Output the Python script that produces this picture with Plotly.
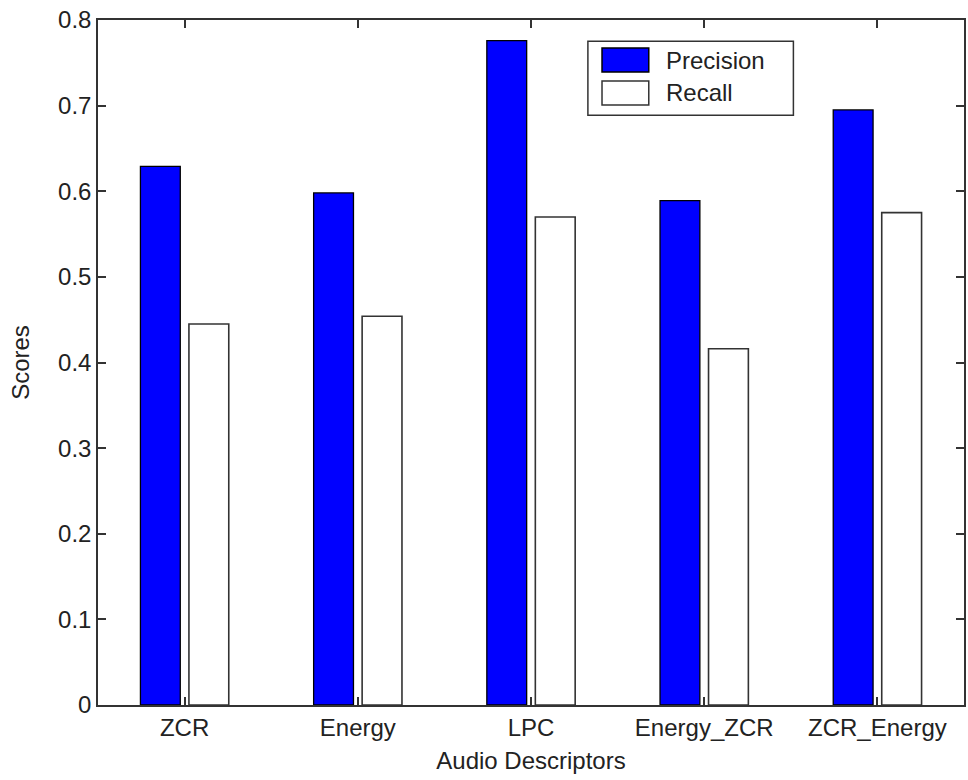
import plotly.graph_objects as go

categories = ["ZCR", "Energy", "LPC", "Energy_ZCR", "ZCR_Energy"]
precision = [0.629, 0.598, 0.776, 0.589, 0.695]
recall = [0.445, 0.454, 0.570, 0.416, 0.575]
yticks = [0, 0.1, 0.2, 0.3, 0.4, 0.5, 0.6, 0.7, 0.8]
ytick_labels = ["0", "0.1", "0.2", "0.3", "0.4", "0.5", "0.6", "0.7", "0.8"]

xpos = list(range(1, len(categories) + 1))
FONT = "Liberation Sans, Arial, sans-serif"
AXIS = "#333333"
TEXT = "#222222"

fig = go.Figure()
fig.add_trace(go.Bar(
    x=xpos, y=precision, name="Precision",
    width=0.23, offset=-0.255,
    marker=dict(color="#0000ff", line=dict(color="#000000", width=1.3)),
    showlegend=False,
))
fig.add_trace(go.Bar(
    x=xpos, y=recall, name="Recall",
    width=0.23, offset=0.025,
    marker=dict(color="#ffffff", line=dict(color="#333333", width=1.6)),
    showlegend=False,
))

# custom legend (box + swatches + labels), in paper coordinates
lx0, lx1, ly0, ly1 = 0.5657, 0.803, 0.861, 0.969
fig.add_shape(type="rect", xref="paper", yref="paper", x0=lx0, x1=lx1, y0=ly0, y1=ly1,
              line=dict(color=AXIS, width=1.5), fillcolor="white", layer="above")
legend_items = [("Precision", "#0000ff", "#000000", 0.9415),
                ("Recall", "#ffffff", "#333333", 0.8935)]
for name, fill, edge, yc in legend_items:
    fig.add_shape(type="rect", xref="paper", yref="paper",
                  x0=0.582, x1=0.636, y0=yc - 0.0175, y1=yc + 0.0175,
                  line=dict(color=edge, width=1.5), fillcolor=fill, layer="above")
    fig.add_annotation(xref="paper", yref="paper", x=0.6535, y=yc, text=name,
                       showarrow=False, xanchor="left", yanchor="middle",
                       font=dict(family=FONT, size=24, color=TEXT))

fig.update_layout(
    width=968, height=780,
    margin=dict(l=98, r=2, t=20, b=75),
    paper_bgcolor="white", plot_bgcolor="white",
    font=dict(family=FONT, size=24, color=TEXT),
    barmode="overlay",
    xaxis=dict(
        range=[0.5, 5.5], tickmode="array", tickvals=xpos, ticktext=categories,
        ticks="inside", ticklen=8, tickwidth=1.5, tickcolor=AXIS,
        showline=True, linecolor=AXIS, linewidth=1.5, mirror="ticks",
        showgrid=False, zeroline=False,
        title=dict(text="Audio Descriptors", standoff=13, font=dict(size=24)),
        tickfont=dict(size=24),
    ),
    yaxis=dict(
        range=[0, 0.8], tickmode="array", tickvals=yticks, ticktext=ytick_labels,
        ticks="inside", ticklen=8, tickwidth=1.5, tickcolor=AXIS,
        showline=True, linecolor=AXIS, linewidth=1.5, mirror="ticks",
        showgrid=False, zeroline=False,
        title=dict(text="Scores", standoff=22, font=dict(size=24)),
        tickfont=dict(size=24),
    ),
)

fig.write_html("out.html")
